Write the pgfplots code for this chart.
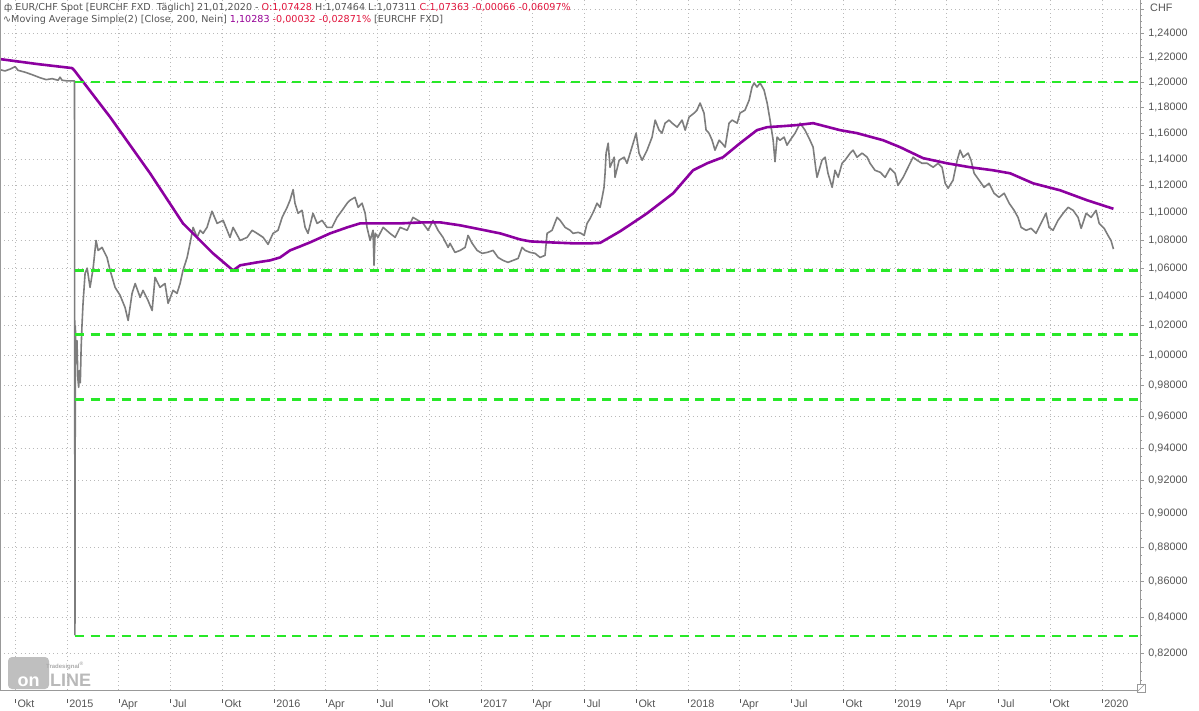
\documentclass[border=0pt]{standalone}
\usepackage{pgfplots}
\pgfplotsset{compat=1.18}
\usepackage{fontspec}
\setmainfont{Liberation Sans}
\newfontfamily\dejavu{DejaVu Sans}
\definecolor{pxc}{RGB}{125,125,125}
\definecolor{mac}{RGB}{140,0,160}
\definecolor{lvl}{RGB}{40,232,40}
\definecolor{txt}{RGB}{85,85,85}
\definecolor{redv}{RGB}{225,20,60}
\definecolor{purv}{RGB}{150,0,150}
\definecolor{gridc}{RGB}{185,185,185}
\newcommand\tk{\rule[5pt]{0.7pt}{3.5pt}\hspace{1.8pt}}
\begin{document}
\begin{tikzpicture}[x=1pt,y=1pt]
\useasboundingbox (0,0) rectangle (1199,710);
\fill[white] (0,0) rectangle (1199,710);
\begin{axis}[
  at={(0pt,20pt)}, anchor=south west,
  width=1140pt, height=690pt, scale only axis,
  ymode=log,
  xmin=2014.676, xmax=2020.183, ymin=0.80, ymax=1.2676,
  axis x line*=bottom, axis y line*=right,
  axis line style={draw=gray!80, line width=0.9pt, -},
  xtick={2014.75,2015,2015.25,2015.5,2015.75,2016,2016.25,2016.5,2016.75,2017,2017.25,2017.5,2017.75,2018,2018.25,2018.5,2018.75,2019,2019.25,2019.5,2019.75,2020},
  xticklabels={{\tk Okt},{\tk 2015},{\tk Apr},{\tk Jul},{\tk Okt},{\tk 2016},{\tk Apr},{\tk Jul},{\tk Okt},{\tk 2017},{\tk Apr},{\tk Jul},{\tk Okt},{\tk 2018},{\tk Apr},{\tk Jul},{\tk Okt},{\tk 2019},{\tk Apr},{\tk Jul},{\tk Okt},{\tk 2020}},
  x tick style={draw=none},
  xticklabel style={anchor=north west, inner sep=0pt, yshift=-5pt, xshift=-0.5pt, font=\fontsize{10.8}{12}\selectfont, text=txt},
  ytick={0.82,0.84,0.86,0.88,0.90,0.92,0.94,0.96,0.98,1.00,1.02,1.04,1.06,1.08,1.10,1.12,1.14,1.16,1.18,1.20,1.22,1.24,1.26},
  yticklabels={{0,82000},{0,84000},{0,86000},{0,88000},{0,90000},{0,92000},{0,94000},{0,96000},{0,98000},{1,00000},{1,02000},{1,04000},{1,06000},{1,08000},{1,10000},{1,12000},{1,14000},{1,16000},{1,18000},{1,20000},{1,22000},{1,24000},{}},
  minor ytick={0.805,0.81,0.815,0.825,0.83,0.835,0.845,0.85,0.855,0.865,0.87,0.875,0.885,0.89,0.895,0.905,0.91,0.915,0.925,0.93,0.935,0.945,0.95,0.955,0.965,0.97,0.975,0.985,0.99,0.995,1.005,1.01,1.015,1.025,1.03,1.035,1.045,1.05,1.055,1.065,1.07,1.075,1.085,1.09,1.095,1.105,1.11,1.115,1.125,1.13,1.135,1.145,1.15,1.155,1.165,1.17,1.175,1.185,1.19,1.195,1.205,1.21,1.215,1.225,1.23,1.235,1.245,1.25,1.255,1.265},
  tick align=outside,
  major tick length=4pt, minor tick length=2pt,
  y tick style={draw=gray!80, line width=0.7pt},
  yticklabel style={font=\fontsize{10.8}{12}\selectfont, text=txt, anchor=west, xshift=1pt},
  xmajorgrids, ymajorgrids,
  major grid style={draw=gridc, line width=0.8pt, dash pattern=on 0.9pt off 3.2pt},
  clip=true,
]
% EUR/CHF daily close (approximate)
\addplot[pxc, line width=1.6pt, line join=round] coordinates {
(2014.676,1.2100) (2014.700,1.2090) (2014.725,1.2105) (2014.749,1.2125) (2014.763,1.2095)
(2014.797,1.2080) (2014.831,1.2060) (2014.870,1.2035) (2014.899,1.2020) (2014.928,1.2028)
(2014.957,1.2015) (2014.966,1.2040) (2014.976,1.2015) (2015.000,1.2010) (2015.036,1.2010)
(2015.038,0.8300) (2015.040,1.0200) (2015.044,0.9950) (2015.048,1.0100) (2015.052,0.9850)
(2015.056,0.9790) (2015.060,0.9900) (2015.064,0.9820) (2015.068,1.0050) (2015.072,1.0200)
(2015.077,1.0350) (2015.087,1.0563) (2015.097,1.0600) (2015.111,1.0465) (2015.126,1.0600)
(2015.140,1.0798) (2015.150,1.0726) (2015.169,1.0748) (2015.193,1.0676) (2015.208,1.0584)
(2015.232,1.0465) (2015.256,1.0410) (2015.280,1.0326) (2015.295,1.0236) (2015.314,1.0423)
(2015.329,1.0492) (2015.353,1.0395) (2015.367,1.0444) (2015.391,1.0374) (2015.411,1.0305)
(2015.425,1.0535) (2015.449,1.0465) (2015.473,1.0492) (2015.488,1.0354) (2015.512,1.0444)
(2015.531,1.0423) (2015.546,1.0492) (2015.560,1.0584) (2015.580,1.0676) (2015.594,1.0777)
(2015.609,1.0892) (2015.628,1.0820) (2015.643,1.0871) (2015.657,1.0849) (2015.676,1.0892)
(2015.700,1.1010) (2015.725,1.0921) (2015.754,1.0943) (2015.787,1.0820) (2015.802,1.0892)
(2015.836,1.0798) (2015.870,1.0820) (2015.894,1.0871) (2015.918,1.0849) (2015.947,1.0820)
(2015.971,1.0770) (2015.995,1.0849) (2016.019,1.0871) (2016.039,1.0965) (2016.063,1.1039)
(2016.077,1.1091) (2016.092,1.1170) (2016.101,1.1069) (2016.116,1.0995) (2016.135,1.1017)
(2016.150,1.0892) (2016.164,1.0849) (2016.188,1.0995) (2016.208,1.0921) (2016.232,1.0943)
(2016.256,1.0892) (2016.280,1.0892) (2016.304,1.0965) (2016.329,1.1017) (2016.353,1.1069)
(2016.367,1.1091) (2016.391,1.1113) (2016.406,1.1039) (2016.425,1.1069) (2016.440,1.0995)
(2016.449,1.0892) (2016.464,1.0798) (2016.478,1.0871) (2016.483,1.0620) (2016.488,1.0850)
(2016.502,1.0820) (2016.527,1.0892) (2016.560,1.0849) (2016.585,1.0820) (2016.609,1.0892)
(2016.643,1.0871) (2016.671,1.0965) (2016.696,1.0943) (2016.720,1.0921) (2016.744,1.0871)
(2016.768,1.0943) (2016.792,1.0871) (2016.816,1.0820) (2016.841,1.0748) (2016.850,1.0777)
(2016.874,1.0712) (2016.899,1.0726) (2016.923,1.0748) (2016.937,1.0834) (2016.957,1.0777)
(2016.981,1.0726) (2017.005,1.0705) (2017.029,1.0712) (2017.058,1.0726) (2017.082,1.0676)
(2017.106,1.0655) (2017.130,1.0641) (2017.155,1.0655) (2017.179,1.0669) (2017.198,1.0748)
(2017.213,1.0726) (2017.237,1.0712) (2017.261,1.0705) (2017.285,1.0676) (2017.309,1.0691)
(2017.319,1.0849) (2017.343,1.0871) (2017.367,1.0965) (2017.382,1.0943) (2017.406,1.0892)
(2017.430,1.0871) (2017.444,1.0849) (2017.469,1.0856) (2017.483,1.0849) (2017.498,1.0834)
(2017.512,1.0921) (2017.527,1.0958) (2017.546,1.1017) (2017.560,1.1069) (2017.575,1.1039)
(2017.585,1.1113) (2017.594,1.1187) (2017.599,1.1292) (2017.604,1.1445) (2017.614,1.1521)
(2017.623,1.1338) (2017.643,1.1414) (2017.647,1.1262) (2017.667,1.1391) (2017.691,1.1414)
(2017.705,1.1368) (2017.720,1.1445) (2017.739,1.1544) (2017.749,1.1599) (2017.763,1.1445)
(2017.778,1.1391) (2017.802,1.1468) (2017.826,1.1568) (2017.841,1.1700) (2017.860,1.1622)
(2017.874,1.1599) (2017.889,1.1676) (2017.908,1.1700) (2017.923,1.1676) (2017.947,1.1645)
(2017.971,1.1700) (2017.986,1.1622) (2018.005,1.1724) (2018.029,1.1755) (2018.043,1.1778)
(2018.058,1.1834) (2018.077,1.1755) (2018.087,1.1622) (2018.101,1.1599) (2018.116,1.1544)
(2018.130,1.1468) (2018.150,1.1544) (2018.164,1.1521) (2018.179,1.1491) (2018.198,1.1676)
(2018.213,1.1700) (2018.237,1.1676) (2018.251,1.1755) (2018.275,1.1778) (2018.295,1.1857)
(2018.309,1.1961) (2018.319,1.1993) (2018.333,1.1961) (2018.348,1.1993) (2018.367,1.1937)
(2018.382,1.1834) (2018.396,1.1700) (2018.411,1.1544) (2018.420,1.1380) (2018.430,1.1568)
(2018.444,1.1544) (2018.464,1.1568) (2018.478,1.1506) (2018.493,1.1544) (2018.517,1.1599)
(2018.541,1.1676) (2018.565,1.1622) (2018.589,1.1544) (2018.604,1.1491) (2018.618,1.1315)
(2018.623,1.1262) (2018.647,1.1391) (2018.662,1.1414) (2018.676,1.1292) (2018.696,1.1187)
(2018.710,1.1315) (2018.725,1.1262) (2018.744,1.1368) (2018.758,1.1391) (2018.783,1.1445)
(2018.797,1.1468) (2018.816,1.1414) (2018.841,1.1445) (2018.865,1.1414) (2018.879,1.1368)
(2018.903,1.1315) (2018.928,1.1300) (2018.952,1.1262) (2018.976,1.1330) (2019.000,1.1292)
(2019.014,1.1202) (2019.039,1.1262) (2019.063,1.1338) (2019.087,1.1414) (2019.106,1.1391)
(2019.130,1.1368) (2019.155,1.1368) (2019.184,1.1338) (2019.208,1.1368) (2019.227,1.1338)
(2019.242,1.1217) (2019.256,1.1180) (2019.280,1.1240) (2019.300,1.1391) (2019.314,1.1468)
(2019.329,1.1414) (2019.353,1.1445) (2019.367,1.1391) (2019.382,1.1292) (2019.406,1.1240)
(2019.430,1.1187) (2019.454,1.1217) (2019.478,1.1143) (2019.502,1.1113) (2019.527,1.1143)
(2019.551,1.1069) (2019.575,1.1017) (2019.594,1.0965) (2019.609,1.0892) (2019.633,1.0871)
(2019.657,1.0885) (2019.681,1.0849) (2019.705,1.0921) (2019.729,1.0995) (2019.744,1.0892)
(2019.763,1.0871) (2019.787,1.0943) (2019.812,1.0995) (2019.836,1.1039) (2019.860,1.1017)
(2019.884,1.0965) (2019.899,1.0885) (2019.923,1.0995) (2019.947,1.0965) (2019.971,1.1017)
(2019.986,1.0921) (2020.010,1.0885) (2020.034,1.0820) (2020.043,1.0798) (2020.055,1.0736)
};
% Moving Average Simple (200)
\addplot[mac, line width=2.6pt, line join=round] coordinates {
(2014.676,1.2186) (2014.860,1.2145) (2015.024,1.2113) (2015.034,1.2097) (2015.208,1.1724)
(2015.401,1.1292) (2015.560,1.0921) (2015.705,1.0705) (2015.802,1.0584) (2015.836,1.0620)
(2015.918,1.0641) (2015.981,1.0655) (2016.029,1.0676) (2016.077,1.0726) (2016.126,1.0755)
(2016.174,1.0784) (2016.271,1.0849) (2016.353,1.0892) (2016.415,1.0921) (2016.478,1.0921)
(2016.609,1.0921) (2016.720,1.0929) (2016.802,1.0929) (2016.899,1.0907) (2016.995,1.0878)
(2017.092,1.0849) (2017.188,1.0805) (2017.237,1.0791) (2017.333,1.0784) (2017.444,1.0777)
(2017.527,1.0777) (2017.575,1.0780) (2017.671,1.0863) (2017.768,1.0960) (2017.802,1.0995)
(2017.928,1.1143) (2018.024,1.1315) (2018.092,1.1368) (2018.169,1.1414) (2018.251,1.1521)
(2018.333,1.1622) (2018.382,1.1645) (2018.459,1.1653) (2018.527,1.1661) (2018.604,1.1676)
(2018.734,1.1622) (2018.816,1.1599) (2018.942,1.1544) (2019.024,1.1491) (2019.135,1.1407)
(2019.251,1.1368) (2019.362,1.1338) (2019.473,1.1315) (2019.556,1.1292) (2019.667,1.1217)
(2019.797,1.1165) (2019.928,1.1091) (2020.055,1.1028)
};
% horizontal levels
\addplot[lvl, line width=2.6pt, dash pattern=on 9pt off 6.5pt] coordinates {(2015.039,1.2000) (2020.183,1.2000)};
\addplot[lvl, line width=2.6pt, dash pattern=on 9pt off 6.5pt] coordinates {(2015.039,1.0584) (2020.183,1.0584)};
\addplot[lvl, line width=2.6pt, dash pattern=on 9pt off 6.5pt] coordinates {(2015.039,1.0141) (2020.183,1.0141)};
\addplot[lvl, line width=2.6pt, dash pattern=on 9pt off 6.5pt] coordinates {(2015.039,0.9709) (2020.183,0.9709)};
\addplot[lvl, line width=2.6pt, dash pattern=on 9pt off 6.5pt] coordinates {(2015.039,0.8294) (2020.183,0.8294)};
\end{axis}
% left border
\draw[gray!80, line width=0.9pt] (0.45,20) -- (0.45,710);
% header
\node[anchor=west, inner sep=0pt, font=\dejavu\fontsize{9.6}{11}\selectfont, text=txt] at (4,702)
 {ф EUR/CHF Spot [EURCHF FXD\ \ Täglich] 21,01,2020 - \textcolor{redv}{O:1,07428} H:1,07464 L:1,07311 \textcolor{redv}{C:1,07363 -0,00066 -0,06097\%}};
\node[anchor=west, inner sep=0pt, font=\dejavu\fontsize{9.6}{11}\selectfont, text=txt] at (3,690)
 {∿Moving Average Simple(2) [Close, 200, Nein] \textcolor{purv}{1,10283} \textcolor{redv}{-0,00032 -0,02871\%} [EURCHF FXD]};
\node[anchor=west, inner sep=0pt, font=\fontsize{10.8}{12}\selectfont, text=txt] at (1150,702) {CHF};
% logo
\fill[gray!50, rounded corners=4pt] (8,21) rectangle (49,53);
\node[anchor=base, inner sep=0pt, text=white, font=\bfseries\fontsize{18}{18}\selectfont] at (28.5,24) {on};
\node[anchor=base west, inner sep=0pt, text=gray!55, font=\bfseries\fontsize{18}{18}\selectfont] at (50,24) {LINE};
\node[anchor=base west, inner sep=0pt, text=gray!65, font=\bfseries\fontsize{6}{6}\selectfont] at (46,42) {Tradesignal\textsuperscript{\tiny ®}};
% corner icon
\draw[gray!80, line width=0.6pt, fill=white] (1137,18) rectangle (1145,26);
\draw[gray!80, line width=0.6pt] (1137,18) -- (1145,26);
\end{tikzpicture}
\end{document}
